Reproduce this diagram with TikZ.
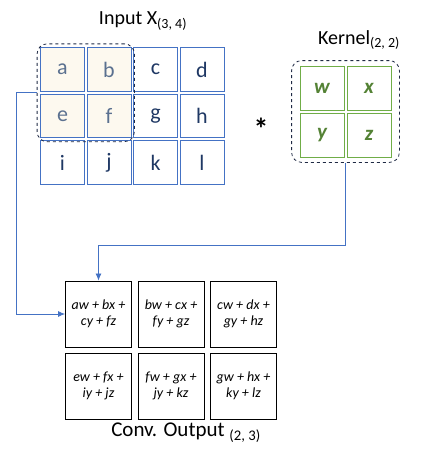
\documentclass[tikz,border=0pt]{standalone}
\usepackage{fontspec}
\setmainfont{Carlito}
\usepackage{xcolor}
\usepackage{tikz}
\usetikzlibrary{arrows.meta,fit}

\definecolor{inblue}{HTML}{4472C4}
\definecolor{intext}{HTML}{1F3864}
\definecolor{hitext}{HTML}{5B7190}
\definecolor{hifill}{HTML}{FDF9EF}
\definecolor{kgreen}{HTML}{70AD47}
\definecolor{ktext}{HTML}{548235}
\definecolor{navy}{HTML}{1F2A44}

\begin{document}
\begin{tikzpicture}[x=1pt, y=-1pt, >={Latex[length=7pt,width=6pt]},
  incell/.style={shape=rectangle, draw=inblue, line width=0.8pt, text=intext, minimum width=44pt, minimum height=43.5pt, inner sep=0pt, font=\fontsize{22}{26}\selectfont},
  hicell/.style={incell, fill=hifill, text=hitext},
  kcell/.style={shape=rectangle, draw=kgreen, line width=0.8pt, text=ktext, minimum size=44pt, inner sep=0pt, font=\fontsize{21}{25}\selectfont\bfseries\itshape},
  ocell/.style={shape=rectangle, draw=black, line width=0.9pt, minimum width=66pt, minimum height=66pt, inner sep=0pt, align=center, font=\fontsize{14}{16}\selectfont\itshape},
  dashbox/.style={draw=navy, dashed, line width=0.8pt, rounded corners=10pt},
  link/.style={draw=inblue, line width=0.8pt, ->}]
\useasboundingbox (0,0) rectangle (425,463);

\node (title) at (143,21) {\fontsize{20}{23}\selectfont Input X\textsubscript{(3, 4)}};
\foreach \n/\i/\j in {a/0/0, b/1/0, e/0/1, f/1/1}
  { \node (x\n) at (62.5+46.5*\i, 69.5+46.5*\j) [hicell] {\n} ; }
\foreach \n/\i/\j in {c/2/0, d/3/0, g/2/1, h/3/1, i/0/2, j/1/2, k/2/2, l/3/2}
  { \node (x\n) at (62.5+46.5*\i, 69.5+46.5*\j) [incell] {\n} ; }
\node (inbox) [dashbox, fit=(xa)(xf), inner xsep=3pt, inner ysep=3.5pt] {};

\node (star) at (261,129) {\fontsize{30}{30}\selectfont\bfseries *};

\node (ktitle) at (359,40) {\fontsize{20}{23}\selectfont Kernel\textsubscript{(2, 2)}};
\foreach \n/\i/\j in {w/0/0, x/1/0, y/0/1, z/1/1}
  { \node (k\n) at (322+47*\i, 88+47*\j) [kcell] {\n} ; }
\node (kbox) [dashbox, fit=(kw)(kz), inner xsep=8pt, inner ysep=5pt] {};

\foreach \n/\i/\j/\t in {11/0/0/{aw + bx +\\cy + fz}, 12/1/0/{bw + cx +\\fy + gz}, 13/2/0/{cw + dx +\\gy + hz},
                         21/0/1/{ew + fx +\\iy + jz}, 22/1/1/{fw + gx +\\jy + kz}, 23/2/1/{gw + hx +\\ky + lz}}
  { \node (o\n) at (98.5+72.5*\i, 314+72*\j) [ocell] {\t} ; }
\node (otitle) at (186,433) {\fontsize{21}{24}\selectfont Conv. Output \textsubscript{(2, 3)}};

\draw [link] (inbox.west) -- ++(-20,0) |- (o11.west) ;
\draw [link] (kbox.south) -- ++(0,83) -| (o11.north) ;
\end{tikzpicture}
\end{document}
